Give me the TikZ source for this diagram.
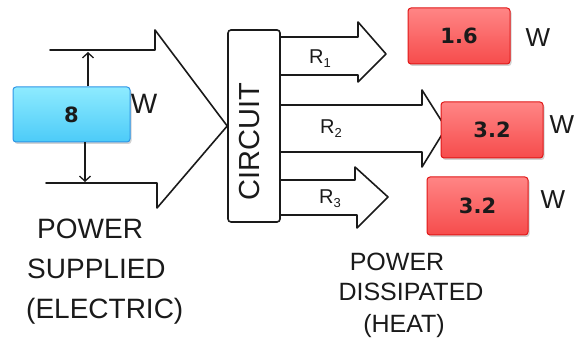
\documentclass[tikz,border=0pt]{standalone}
\usepackage{fontspec}
\setmainfont{Liberation Sans}
\newfontfamily\boxfont{DejaVu Sans}
\usetikzlibrary{arrows.meta,shadows}
\definecolor{bluetop}{HTML}{8EEBFF}
\definecolor{bluebot}{HTML}{4CCBF8}
\definecolor{blueedge}{HTML}{2E95E6}
\definecolor{redtop}{HTML}{FF8585}
\definecolor{redbot}{HTML}{F64C4C}
\definecolor{rededge}{HTML}{E01818}
\definecolor{ink}{HTML}{1A1A1A}
\newcommand\Rsub[1]{R\raisebox{-4pt}{\fontsize{13}{13}\selectfont #1}}
\tikzset{
  sketch/.style={draw=ink, line width=1.6pt, line join=round, line cap=round},
  thinarrow/.style={draw=ink, line width=1.4pt, -{Straight Barb[length=5pt,width=11pt,line width=1.3pt]}},
  valbox/.style={rounded corners=3pt, line width=1pt, inner sep=0pt,
    drop shadow={shadow xshift=1.5pt, shadow yshift=-2pt, opacity=0.35},
    font=\boxfont\bfseries\fontsize{21}{21}\selectfont, text=ink},
  bluebox/.style={valbox, draw=blueedge, top color=bluetop, bottom color=bluebot},
  redbox/.style={valbox, draw=rededge, top color=redtop, bottom color=redbot},
  capbox/.style={inner sep=0pt, text height=0.72em, text depth=0pt, text=ink},
  bigtext/.style={capbox, font=\fontsize{28}{28}\selectfont},
  midtext/.style={capbox, font=\fontsize{25}{25}\selectfont},
  unitw/.style={capbox, font=\fontsize{26}{26}\selectfont},
  rlabel/.style={capbox, font=\fontsize{20}{20}\selectfont},
}
\begin{document}
\begin{tikzpicture}[x=1pt,y=-1pt]
\useasboundingbox (0,0) rectangle (577,352);
% circuit box
\node[sketch, rounded corners=3pt, minimum width=52pt, minimum height=192pt, inner sep=0pt] (circ) at (254,126) {};
\node[capbox, rotate=90, font=\fontsize{29}{29}\selectfont] (circtxt) at (256,142) {CIRCUIT};
% input block arrow
\coordinate (tipin) at (circ.west);
\draw[sketch] (50,50) -- (155,50) -- (155,30) -- (tipin) -- (157,208) -- (157,183) -- (46,183);
% output block arrows
\draw[sketch] (circ.east |- 0,37) -- (358,37) -- (358,22) -- (386,54) -- (358,82) -- (358,75) -- (circ.east |- 0,75);
\draw[sketch] (circ.east |- 0,105) -- (422,105) -- (422,90) -- (446,128) -- (422,167) -- (422,152) -- (circ.east |- 0,152);
\draw[sketch] (circ.east |- 0,180) -- (355,180) -- (355,167) -- (388,197) -- (357,228) -- (357,215) -- (circ.east |- 0,215);
\node[rlabel] (r1) at (320,60) {\Rsub{1}};
\node[rlabel] (r2) at (331,130) {\Rsub{2}};
\node[rlabel] (r3) at (330,200) {\Rsub{3}};
% supplied power box
\node[bluebox, minimum width=117pt, minimum height=55pt] (blue) at (71.5,114.5) {8};
\node[unitw, font=\fontsize{28}{28}\selectfont] (wb) at (144,110) {W};
\coordinate (vtop) at (88,52);
\coordinate (vbot) at (85,182);
\draw[thinarrow] (blue.north -| vtop) -- (vtop);
\draw[thinarrow] (blue.south -| vbot) -- (vbot);
% dissipated power boxes
\node[redbox, minimum width=102pt, minimum height=56pt] (red1) at (459,36) {1.6};
\node[redbox, minimum width=102pt, minimum height=56pt] (red2) at (492,130) {3.2};
\node[redbox, minimum width=101pt, minimum height=58pt] (red3) at (477.5,206) {3.2};
\node[unitw] (w1) at (538,43) {W};
\node[unitw] (w2) at (562,130) {W};
\node[unitw] (w3) at (553,205) {W};
% captions
\node[bigtext, anchor=west] (ps1) at (37,235) {POWER};
\node[bigtext, anchor=west] (ps2) at (27,275) {SUPPLIED};
\node[bigtext, anchor=west] (ps3) at (26,315) {(ELECTRIC)};
\node[midtext] (pd1) at (397,267) {POWER};
\node[midtext] (pd2) at (411,297) {DISSIPATED};
\node[midtext] (pd3) at (404,329) {(HEAT)};
\end{tikzpicture}
\end{document}
